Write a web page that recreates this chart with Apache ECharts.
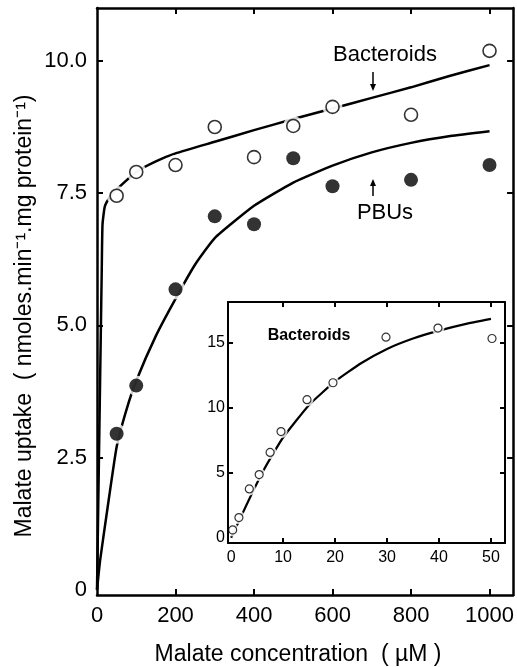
<!DOCTYPE html>
<html>
<head>
<meta charset="utf-8">
<script src="https://cdn.jsdelivr.net/npm/echarts@6/dist/echarts.min.js"></script>
<style>
  html, body { margin: 0; padding: 0; background: #fff; }
  #chart { width: 517px; height: 667px; }
</style>
</head>
<body>
<div id="chart"></div>
<script>
// main panel: malate concentration (uM) vs uptake
var concentration = [50, 100, 200, 300, 400, 500, 600, 800, 1000];
var bacteroidUptake = [7.45, 7.9, 8.03, 8.75, 8.18, 8.77, 9.13, 8.98, 10.19];
var pbuUptake = [2.95, 3.86, 5.68, 7.06, 6.91, 8.16, 7.63, 7.75, 8.03];

// fitted curves
var bacteroidFitX = [0, 6, 10, 12, 14, 20, 35, 50, 100, 150, 200, 300, 400, 500, 600, 700, 800, 900, 1000];
var bacteroidFitY = [0, 3.0, 5.0, 6.0, 6.9, 7.25, 7.45, 7.57, 7.9, 8.1, 8.25, 8.47, 8.69, 8.9, 9.1, 9.3, 9.5, 9.72, 9.92];
var pbuFitX = [0, 8, 25, 50, 75, 100, 150, 200, 250, 300, 400, 500, 600, 700, 800, 900, 1000];
var pbuFitY = [0, 0.56, 1.45, 2.7, 3.4, 3.95, 4.8, 5.5, 6.15, 6.65, 7.26, 7.7, 8.02, 8.27, 8.45, 8.58, 8.67];

// inset: bacteroids at low concentration
var insetConc = [0.3, 1.5, 3.5, 5.4, 7.5, 9.6, 14.6, 19.6, 29.8, 39.8, 50.2];
var insetUptake = [0.6, 1.55, 3.75, 4.85, 6.55, 8.15, 10.6, 11.9, 15.4, 16.1, 15.3];
var insetFitX = [0, 2, 4, 6, 8, 10, 15, 20, 25, 30, 35, 40, 45, 50];
var insetFitY = [0, 1.7, 3.4, 5.0, 6.4, 7.7, 10.2, 12.0, 13.4, 14.5, 15.3, 15.9, 16.4, 16.8];

// tick labels
var mainXTicks = [0, 200, 400, 600, 800, 1000];
var mainYTicks = [0, 2.5, 5, 7.5, 10];
var insetXTicks = [0, 10, 20, 30, 40, 50];
var insetYTicks = [0, 5, 10, 15];

function pairs(xs, ys) {
  return xs.map(function (x, i) { return [x, ys[i]]; });
}

var FONT = 'Liberation Sans';
var black = '#000';

function axisBase(grid, min, max, width) {
  return {
    type: 'value', gridIndex: grid, min: min, max: max, z: 5,
    splitLine: { show: false },
    axisLine: { show: true, onZero: false, lineStyle: { color: black, width: width } }
  };
}

function plain(v) { return String(v); }

var chart = echarts.init(document.getElementById('chart'), null, { renderer: 'canvas' });

var option = {
  animation: false,
  backgroundColor: '#fff',
  grid: [
    { left: 97, top: 8, right: 2, bottom: 72 },
    { left: 228, top: 302, right: 12, bottom: 124 }
  ],
  xAxis: [
    Object.assign(axisBase(0, 0, 1060, 2.5), {
      position: 'bottom',
      axisTick: { inside: true, length: 6, lineStyle: { width: 2 }, customValues: mainXTicks.slice(1) },
      axisLabel: { color: black, fontFamily: FONT, fontSize: 22, margin: 10, customValues: mainXTicks, formatter: plain }
    }),
    Object.assign(axisBase(0, 0, 1060, 2.5), {
      position: 'top',
      axisTick: { inside: true, length: 6, lineStyle: { width: 2 }, customValues: mainXTicks.slice(1) },
      axisLabel: { show: false }
    }),
    Object.assign(axisBase(1, -0.6, 52.7, 2), {
      position: 'bottom',
      axisTick: { inside: true, length: 5, lineStyle: { width: 2 }, customValues: insetXTicks.slice(1) },
      axisLabel: { color: black, fontFamily: FONT, fontSize: 16, margin: 7, customValues: insetXTicks, formatter: plain }
    }),
    Object.assign(axisBase(1, -0.6, 52.7, 2), {
      position: 'top',
      axisTick: { inside: true, length: 5, lineStyle: { width: 2 }, customValues: insetXTicks.slice(1) },
      axisLabel: { show: false }
    })
  ],
  yAxis: [
    Object.assign(axisBase(0, -0.1, 11, 2.5), {
      position: 'left',
      axisTick: { inside: true, length: 6, lineStyle: { width: 2 }, customValues: mainYTicks.slice(1) },
      axisLabel: {
        color: black, fontFamily: FONT, fontSize: 22, margin: 10, customValues: mainYTicks,
        formatter: function (v) { return v === 0 ? '0' : v.toFixed(1); }
      }
    }),
    Object.assign(axisBase(0, -0.1, 11, 2.5), {
      position: 'right',
      axisTick: { inside: true, length: 6, lineStyle: { width: 2 }, customValues: mainYTicks.slice(1) },
      axisLabel: { show: false }
    }),
    Object.assign(axisBase(1, -0.4, 18.1, 2), {
      position: 'left',
      axisTick: { inside: true, length: 5, lineStyle: { width: 2 }, customValues: insetYTicks.slice(1) },
      axisLabel: { color: black, fontFamily: FONT, fontSize: 16, margin: 3, customValues: insetYTicks, formatter: plain }
    }),
    Object.assign(axisBase(1, -0.4, 18.1, 2), {
      position: 'right',
      axisTick: { inside: true, length: 5, lineStyle: { width: 2 }, customValues: insetYTicks.slice(1) },
      axisLabel: { show: false }
    })
  ],
  series: [
    // main fitted curves
    { type: 'line', xAxisIndex: 0, yAxisIndex: 0, data: pairs(bacteroidFitX, bacteroidFitY),
      smooth: 0.15, showSymbol: false, silent: true, z: 2,
      lineStyle: { color: black, width: 2.5 } },
    { type: 'line', xAxisIndex: 0, yAxisIndex: 0, data: pairs(pbuFitX, pbuFitY),
      smooth: 0.15, showSymbol: false, silent: true, z: 2,
      lineStyle: { color: black, width: 2.5 } },
    // white halos break the curve around each point
    { type: 'scatter', xAxisIndex: 0, yAxisIndex: 0, data: pairs(concentration, bacteroidUptake),
      symbolSize: 20, itemStyle: { color: '#fff' }, silent: true, z: 3 },
    { type: 'scatter', xAxisIndex: 0, yAxisIndex: 0, data: pairs(concentration, pbuUptake),
      symbolSize: 20, itemStyle: { color: '#fff' }, silent: true, z: 3 },
    { type: 'scatter', name: 'Bacteroids', xAxisIndex: 0, yAxisIndex: 0, data: pairs(concentration, bacteroidUptake),
      symbolSize: 13, itemStyle: { color: '#fff', borderColor: black, borderWidth: 1.6 }, z: 4 },
    { type: 'scatter', name: 'PBUs', xAxisIndex: 0, yAxisIndex: 0, data: pairs(concentration, pbuUptake),
      symbolSize: 14, itemStyle: { color: black }, z: 4 },
    // inset
    { type: 'line', xAxisIndex: 2, yAxisIndex: 2, data: pairs(insetFitX, insetFitY),
      smooth: 0.15, showSymbol: false, silent: true, z: 2,
      lineStyle: { color: black, width: 2.2 } },
    { type: 'scatter', xAxisIndex: 2, yAxisIndex: 2, data: pairs(insetConc, insetUptake),
      symbolSize: 13, itemStyle: { color: '#fff' }, silent: true, z: 3 },
    { type: 'scatter', xAxisIndex: 2, yAxisIndex: 2, data: pairs(insetConc, insetUptake),
      symbolSize: 8, itemStyle: { color: '#fff', borderColor: black, borderWidth: 1.2 }, z: 4 }
  ],
  graphic: [
    { type: 'text', x: 385, y: 55, style: { text: 'Bacteroids', font: '22px ' + FONT, fill: black, align: 'center', verticalAlign: 'middle' } },
    { type: 'line', shape: { x1: 373, y1: 72, x2: 373, y2: 86 }, style: { stroke: black, lineWidth: 1.5 } },
    { type: 'polygon', shape: { points: [[370, 84], [376, 84], [373, 91]] }, style: { fill: black } },
    { type: 'text', x: 385, y: 213, style: { text: 'PBUs', font: '22px ' + FONT, fill: black, align: 'center', verticalAlign: 'middle' } },
    { type: 'line', shape: { x1: 373, y1: 183, x2: 373, y2: 196 }, style: { stroke: black, lineWidth: 1.5 } },
    { type: 'polygon', shape: { points: [[370, 186], [376, 186], [373, 179]] }, style: { fill: black } },
    { type: 'text', x: 309, y: 336, style: { text: 'Bacteroids', font: 'bold 16px ' + FONT, fill: black, align: 'center', verticalAlign: 'middle' } },
    { type: 'text', x: 298, y: 655, style: { text: 'Malate concentration  ( \u00b5M )', font: '23px ' + FONT, fill: black, align: 'center', verticalAlign: 'middle' } },
    { type: 'text', x: 25, y: 316, rotation: Math.PI / 2,
      style: { text: 'Malate uptake  ( nmoles.min\u207b\u00b9.mg protein\u207b\u00b9)', font: '23px ' + FONT, fill: black, align: 'center', verticalAlign: 'middle' } }
  ]
};

chart.setOption(option);
</script>
</body>
</html>
